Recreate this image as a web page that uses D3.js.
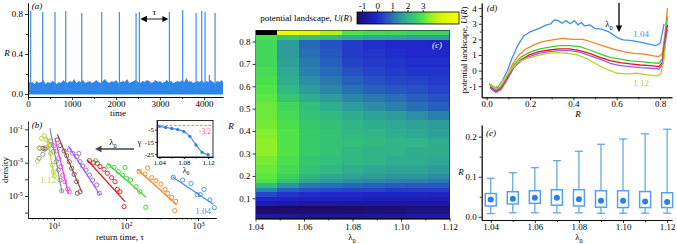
<!DOCTYPE html>
<html><head><meta charset="utf-8">
<script src="https://cdn.jsdelivr.net/npm/d3@7"></script>
<style>
body{margin:0;background:#fff;}
svg{display:block;}
</style></head><body>
<svg id="c" width="677" height="244"></svg>
<script>
// ---------------- DATA ----------------
// (a) time series: noise envelope (every 50 time units) and spikes
const aNoiseStep = 50;
const aNoise = [0.14,0.11,0.12,0.10,0.13,0.11,0.12,0.14,0.10,0.12,
0.11,0.13,0.12,0.10,0.12,0.11,0.14,0.12,0.11,0.13,
0.12,0.15,0.11,0.13,0.12,0.14,0.11,0.12,0.13,0.11,
0.12,0.14,0.12,0.11,0.13,0.15,0.12,0.11,0.13,0.12,
0.14,0.11,0.12,0.13,0.12,0.15,0.11,0.12,0.13,0.14,
0.12,0.11,0.13,0.12,0.14,0.13,0.11,0.12,0.14,0.12,
0.13,0.11,0.12,0.14,0.12,0.13,0.11,0.12,0.13,0.12,
0.14,0.12,0.16,0.12,0.13,0.11,0.12,0.13,0.12,0.14,
0.11,0.13,0.12,0.14,0.12,0.11,0.13,0.12,0.14,0.12];
const aSpikeT = [60,334,614,857,1220,1674,2076,2455,2530,3212,3515,3818,3947,4023,4121,4250];
const aSpikeR = [0.83,0.82,0.82,0.83,0.81,0.82,0.82,0.81,0.82,0.82,0.84,0.81,0.83,0.82,0.19,0.81];
const aTauFrom = 2530, aTauTo = 3212, aTauR = 0.75;

// (b) return-time densities
const bLambda = ["1.04","1.05","1.06","1.07","1.08","1.09","1.10","1.11","1.12"];
const bColor = ["#3f8fe8","#ff7f1a","#3ccf2a","#e8141a","#9a5cf0","#8a4a48","#ea3fe8","#858f90","#b6d22c"];
const bTau = [
 [454,612,800,980,1077,1211,1468,1687],
 [153,184,200,227,261,306,348,379,431,490,474],
 [37.9,57.5,68.1,78.3,89.9,96.8,102,116,138,156,188],
 [31.0,35.2,40.0,43.6,49.5,55.1,63.2,70.3,75.8,82.6,93.8],
 [16.3,18.2,20.6,22.2,23.0,25.0,27.8,31.0,34.4,39.2,42.6],
 [7.0,7.5,11.1,12.1,13.8,15.0,16.3,17.6,19.0,20.6,21.1,23.0],
 [9.0,9.8,10.9,11.6,12.4,13.2,14.2,15.5,16.3],
 [6.2,6.4,7.0,7.9,8.8,9.8,10.7,11.5,12.1,12.8],
 [5.9,6.2,6.7,7.3,7.9,8.4,9.0,9.4,9.8,10.1]];
const bDens = [
 [1.32e-4,9.1e-5,5.5e-5,1.2e-5,1.2e-5,2.5e-5,5.8e-6,2.0e-6],
 [2.9e-4,2.1e-4,4.8e-4,1.26e-4,8.3e-5,5.2e-5,2.5e-5,1.45e-5,8.3e-6,4.8e-6,1.32e-6],
 [1.32e-3,6.3e-4,5.2e-4,2.9e-4,1.8e-4,5.2e-4,1.15e-4,9.1e-5,3.6e-5,1.8e-5,2.1e-6],
 [1.32e-3,1.0e-3,9.1e-4,5.8e-4,4.0e-4,2.3e-4,1.26e-4,7.2e-5,2.5e-5,1.8e-5,2.3e-6],
 [5.8e-3,3.6e-3,2.3e-3,3.6e-3,1.15e-3,6.3e-4,3.6e-4,1.8e-4,9.1e-5,4.6e-5,1.45e-5],
 [7.2e-3,6.6e-3,2.3e-2,1.05e-2,5.0e-3,2.6e-3,1.15e-3,4.6e-4,2.0e-4,7.2e-5,1.45e-5,1.8e-5],
 [2.0e-2,1.05e-2,5.0e-3,1.8e-3,5.8e-4,1.8e-4,7.2e-5,2.6e-5,1.8e-5],
 [1.8e-3,7.2e-3,3.2e-3,7.9e-3,1.15e-2,4.6e-3,1.15e-3,3.6e-4,9.1e-5,2.0e-5],
 [1.26e-3,7.9e-3,2.9e-2,4.2e-2,2.3e-2,1.0e-2,3.6e-3,7.2e-4,2.9e-4,1.66e-4]];
const bFitTau = [[440,1633],[144,506],[55.1,190],[29.0,96.8],[15.8,43.6],[11.1,24.2],[10.3,15.8],[8.8,12.9],[7.9,10.1]];
const bFitDens = [[1.45e-4,3.2e-6],[4.0e-4,2.9e-6],[9.1e-4,8.3e-6],[1.45e-3,4.6e-6],[1.0e-2,1.15e-5],[5.0e-2,1.8e-5],[2.9e-2,1.45e-5],[0.115,1.66e-5],[3.6e-2,1.45e-4]];
// inset: exponent gamma vs lambda0
const inLambda = [1.04,1.05,1.06,1.07,1.08,1.09,1.10,1.11,1.12];
const inGamma = [-2.3,-3.2,-4.0,-4.9,-6.5,-10.5,-17.5,-23.5,-25.5];

// (c) heatmap U(R, lambda0)
const cLambda = [1.04,1.05,1.06,1.07,1.08,1.09,1.10,1.11,1.12];
const cEdges = [0.01,0.03,0.05,0.07,0.09,0.11,0.13,0.15,0.17,0.19,0.21,0.25,0.29,0.33,0.37,0.41,0.45,0.49,0.53,0.57,0.61,0.65,0.69,0.73,0.77,0.81,0.83,0.85];
const cU = [
 [-0.6,-0.7,-0.8,-0.8,-0.8,-0.7,-0.7,-0.6,-0.6],
 [-1.2,-1.2,-1.2,-1.2,-1.2,-1.1,-1.1,-1.0,-1.0],
 [-1.3,-1.3,-1.3,-1.3,-1.25,-1.2,-1.15,-1.1,-1.1],
 [-0.5,-0.6,-0.7,-0.7,-0.7,-0.7,-0.7,-0.7,-0.7],
 [-0.1,-0.2,-0.3,-0.3,-0.3,-0.4,-0.4,-0.4,-0.4],
 [0.5,0.2,0.1,0.0,0.0,-0.1,-0.1,-0.1,-0.2],
 [1.3,0.8,0.6,0.5,0.4,0.4,0.3,0.3,0.3],
 [2.2,1.5,1.1,1.0,0.9,0.8,0.8,0.7,0.7],
 [2.9,2.2,1.7,1.5,1.4,1.3,1.2,1.2,1.1],
 [3.1,2.6,2.0,1.8,1.7,1.6,1.5,1.5,1.4],
 [3.2,2.8,2.3,2.1,1.9,1.8,1.7,1.7,1.6],
 [3.3,2.9,2.4,2.2,2.1,2.0,1.9,1.9,1.8],
 [3.5,3.0,2.5,2.3,2.1,2.0,2.0,1.9,1.9],
 [3.5,3.0,2.5,2.3,2.2,2.1,2.0,2.0,1.9],
 [3.4,3.0,2.5,2.3,2.1,2.0,1.9,1.8,1.7],
 [3.3,2.9,2.4,2.2,2.0,1.9,1.8,1.7,1.6],
 [3.2,2.8,2.3,2.1,1.9,1.7,1.6,1.4,1.2],
 [3.2,2.7,2.2,1.9,1.6,1.4,1.2,1.0,0.8],
 [3.1,2.4,1.9,1.6,1.3,1.1,1.0,0.8,0.6],
 [3.0,2.1,1.6,1.3,1.0,0.8,0.7,0.6,0.4],
 [2.9,1.9,1.4,1.1,0.8,0.6,0.5,0.4,0.3],
 [2.8,1.8,1.2,0.9,0.6,0.4,0.3,0.2,0.2],
 [2.7,1.7,1.1,0.8,0.4,0.3,0.2,0.1,0.1],
 [2.7,1.6,1.0,0.7,0.3,0.2,0.1,0.0,0.0],
 [2.7,1.6,0.9,0.6,0.3,0.1,0.0,0.0,-0.1],
 [2.9,2.4,2.2,2.1,1.9,1.8,1.8,1.7,1.7],
 [null,4.8,4.6,3.8,3.0,2.8,2.7,2.6,2.6]];
const cStopV = [-1.33,-1.0,-0.5,0.0,0.5,1.0,1.5,2.0,2.5,3.0,3.5,4.2,5.4];
const cStopC = ["#200a60","#1c1488","#1c1cb0","#2028cc","#2648c8","#2870b4","#2c96a0","#30b488","#38cc68","#50e448","#90f028","#d8f404","#ffff00"];
const cbTicks = [-1,0,1,2,3];

// (d) potential curves
const dLambda = ["1.04","1.05","1.06","1.07","1.08","1.12"];
const dColor = ["#3f8fe8","#ff7f1a","#3ccf2a","#e8141a","#9a5cf0","#b6d22c"];
const dRgrid = [0.016,0.042,0.067,0.094,0.125,0.156,0.195,0.242,0.288,0.335,0.382,0.429,0.475,0.522,0.569,0.616,0.662,0.709,0.756,0.795,0.81,0.823,0.834];
const dR = [
 [0.011,0.031,0.051,0.07,0.094,0.117,0.145,0.171,0.203,0.242,0.276,0.296,0.312,0.33,0.348,0.366,0.386,0.405,0.421,0.436,0.452,0.475,0.499,0.53,0.561,0.584,0.608,0.631,0.67,0.709,0.748,0.779,0.8,0.81,0.818],
 [0.016,0.039,0.062,0.086,0.117,0.148,0.179,0.218,0.257,0.304,0.351,0.397,0.444,0.491,0.538,0.584,0.631,0.678,0.725,0.771,0.795,0.81,0.821,0.834],
 dRgrid, dRgrid, dRgrid,
 [0.011,0.039,0.062,0.086,0.117,0.148,0.187,0.234,0.281,0.327,0.374,0.421,0.468,0.514,0.561,0.600,0.647,0.693,0.740,0.787,0.803,0.818,0.826]];
const dU = [
 [-0.85,-1.13,-1.07,-0.7,-0.06,0.79,1.65,2.22,2.5,2.71,2.93,3.0,3.25,3.2,3.03,3.2,3.0,3.2,2.93,3.08,2.86,2.93,2.71,2.65,2.5,2.29,2.07,1.97,1.92,1.82,1.69,1.6,1.75,2.39,2.99],
 [-0.98,-1.24,-1.07,-0.6,0.36,1.0,1.37,1.65,1.86,1.97,2.07,2.0,2.0,1.8,1.58,1.37,1.22,1.11,1.05,0.94,0.9,1.1,2.18,4.0],
 [-1.03,-1.28,-1.07,-0.49,0.36,0.85,1.15,1.37,1.5,1.6,1.6,1.54,1.32,1.07,0.85,0.73,0.62,0.58,0.51,0.47,0.73,1.97,3.46],
 [-1.07,-1.35,-1.13,-0.56,0.26,0.68,1.0,1.22,1.32,1.39,1.39,1.28,1.11,0.85,0.64,0.51,0.43,0.36,0.32,0.26,0.51,1.97,2.93],
 [-1.11,-1.41,-1.2,-0.6,0.19,0.58,0.9,1.11,1.22,1.28,1.28,1.18,0.96,0.73,0.47,0.32,0.26,0.19,0.15,0.09,0.36,1.75,2.6],
 [-0.81,-1.07,-0.92,-0.43,0.15,0.58,0.79,0.96,1.11,1.15,1.11,1.0,0.73,0.36,0.04,-0.17,-0.21,-0.17,-0.28,-0.34,-0.21,0.68,1.75]];

// (e) box plots of R
const eLambda = [1.04,1.05,1.06,1.07,1.08,1.09,1.10,1.11,1.12];
const eMin  = [0.008,0.010,0.010,0.010,0.010,0.009,0.009,0.009,0.009];
const eQ1   = [0.027,0.032,0.0335,0.029,0.027,0.024,0.023,0.023,0.023];
const eMean = [0.043,0.045,0.0475,0.0475,0.044,0.040,0.040,0.038,0.037];
const eQ3   = [0.058,0.0625,0.065,0.0675,0.0675,0.065,0.065,0.063,0.060];
const eMax  = [0.096,0.110,0.1225,0.140,0.1635,0.181,0.194,0.207,0.2185];

// ---------------- DRAWING ----------------
const SERIF = '"Liberation Serif","DejaVu Serif",serif';
const FS = 9;
const svg = d3.select('#c');
const fmt = n => d => (d < 0 ? '-' : '') + Math.abs(d).toFixed(n);

function axis(g, ax, tr, fs) {
  const a = g.append('g').attr('transform', tr).call(ax);
  a.attr('font-family', SERIF).attr('font-size', fs || FS);
  a.selectAll('.domain').attr('stroke', '#000').attr('stroke-width', 0.8);
  a.selectAll('.tick line').attr('stroke', '#000').attr('stroke-width', 0.8);
  a.selectAll('.tick text').attr('fill', '#000');
  return a;
}
function rich(x, y, parts, o = {}) {
  const size = o.size || FS;
  const t = svg.append('text').attr('x', x).attr('y', y)
    .attr('font-family', SERIF).attr('font-size', size)
    .attr('fill', o.color || '#000').attr('text-anchor', o.anchor || 'middle');
  if (o.rotate) t.attr('transform', `rotate(${o.rotate},${x},${y})`);
  if (o.italic) t.attr('font-style', 'italic');
  let shift = 0;
  parts.forEach(p => {
    const [s, k] = Array.isArray(p) ? p : [p, ''];
    const ts = t.append('tspan').text(s);
    let want = 0;
    if (k === 'sub') { want = size * 0.3; ts.attr('font-size', size * 0.7); }
    if (k === 'sup') { want = -size * 0.4; ts.attr('font-size', size * 0.7); }
    if (k === 'i') ts.attr('font-style', 'italic');
    if (want - shift !== 0) ts.attr('dy', want - shift);
    shift = want;
  });
  return t;
}
const LAM0 = ['λ', ['0', 'sub']];
function arrowHead(x, y, dir, col) {
  const s = 3.2, l = 6.5;
  let pts;
  if (dir === 'left') pts = [[x, y], [x + l, y - s], [x + l, y + s]];
  else pts = [[x, y], [x - s, y - l], [x + s, y - l]];
  svg.append('polygon').attr('points', pts.map(p => p.join(',')).join(' ')).attr('fill', col);
}

// ===== (a) =====
{
  const xa = d3.scaleLinear().domain([0, 4430]).range([28, 223]);
  const ya = d3.scaleLinear().domain([-0.03, 0.91]).range([97, 3]);
  const g = svg.append('g');
  g.append('path').datum(aNoise)
    .attr('d', d3.area().x((d, i) => xa(Math.min(i * aNoiseStep, 4430))).y0(ya(-0.006)).y1(d => ya(d)))
    .attr('fill', '#2f86ea');
  g.selectAll('line.sp').data(aSpikeT).join('line')
    .attr('x1', d => xa(d)).attr('x2', d => xa(d))
    .attr('y1', ya(0.05)).attr('y2', (d, i) => ya(aSpikeR[i]))
    .attr('stroke', '#3d8eec').attr('stroke-width', 1.2);
  axis(g, d3.axisBottom(xa).tickValues([500, 1500, 2500, 3500]).tickSize(2).tickSizeOuter(0).tickFormat(''), 'translate(0,97)');
  axis(g, d3.axisBottom(xa).tickValues([0, 1000, 2000, 3000, 4000]).tickSize(3).tickSizeOuter(0).tickPadding(1).tickFormat(fmt(0)), 'translate(0,97)');
  axis(g, d3.axisLeft(ya).tickValues([0.2, 0.6]).tickSize(2).tickSizeOuter(0).tickFormat(''), 'translate(28,0)');
  axis(g, d3.axisLeft(ya).tickValues([0, 0.4, 0.8]).tickSize(3).tickSizeOuter(0).tickPadding(2).tickFormat(fmt(1)), 'translate(28,0)');
  // tau arrow
  const yT = ya(aTauR);
  g.append('line').attr('x1', xa(aTauFrom) + 5).attr('x2', xa(aTauTo) - 5).attr('y1', yT).attr('y2', yT).attr('stroke', '#000').attr('stroke-width', 0.9);
  arrowHead(xa(aTauFrom) + 1, yT, 'left', '#000');
  svg.append('polygon').attr('points', `${xa(aTauTo) - 1},${yT} ${xa(aTauTo) - 7},${yT - 3} ${xa(aTauTo) - 7},${yT + 3}`).attr('fill', '#000');
  rich((xa(aTauFrom) + xa(aTauTo)) / 2, yT - 4, ['τ']);
  rich(37, 8.5, ['(a)'], { italic: true });
  rich(7, 56, [['R', 'i']]);
  rich(118, 116, ['time']);
}

// ===== (b) =====
{
  const xb = d3.scaleLog().domain([4.35, 1780]).range([28, 216]);
  const yb = d3.scaleLog().domain([4.8e-7, 0.316]).range([218, 121]);
  const g = svg.append('g');
  const minor = [];
  [1, 10, 100, 1000].forEach(dec => { for (let k = 2; k <= 9; k++) { const v = dec * k; if (v > 4.35 && v < 1780) minor.push(v); } });
  axis(g, d3.axisBottom(xb).tickValues(minor).tickSize(1.5).tickSizeOuter(0).tickFormat(''), 'translate(0,218)');
  const ax = axis(g, d3.axisBottom(xb).tickValues([10, 100, 1000]).tickSize(3).tickSizeOuter(0).tickPadding(2), 'translate(0,218)');
  ax.selectAll('.tick text').each(function (d) {
    const t = d3.select(this); t.text('');
    t.append('tspan').text('10');
    t.append('tspan').attr('font-size', 6.3).attr('dy', -3.6).text(Math.round(Math.log10(d)));
  });
  const ay = axis(g, d3.axisLeft(yb).tickValues([1e-1, 1e-2, 1e-3, 1e-4, 1e-5, 1e-6]).tickSize(3).tickSizeOuter(0).tickPadding(2), 'translate(28,0)');
  ay.selectAll('.tick text').each(function (d) {
    const e = Math.round(Math.log10(d)); const t = d3.select(this); t.text('');
    if (Math.abs(e) % 2 === 1) {
      t.append('tspan').text('10');
      t.append('tspan').attr('font-size', 6.3).attr('dy', -3.6).text('-' + Math.abs(e));
    }
  });
  bLambda.forEach((lam, i) => {
    g.append('line')
      .attr('x1', xb(bFitTau[i][0])).attr('y1', yb(bFitDens[i][0]))
      .attr('x2', xb(bFitTau[i][1])).attr('y2', yb(bFitDens[i][1]))
      .attr('stroke', bColor[i]).attr('stroke-width', 1.2);
    g.selectAll(null).data(bTau[i]).join('circle')
      .attr('cx', d => xb(d)).attr('cy', (d, j) => yb(bDens[i][j])).attr('r', 2.1)
      .attr('fill', 'none').attr('stroke', bColor[i]).attr('stroke-width', 0.9);
  });
  rich(37, 128, ['(b)'], { italic: true });
  rich(8, 170, ['density'], { rotate: -90 });
  rich(120, 240, ['return time, τ']);
  rich(48, 183, ['1.12'], { color: bColor[8] });
  rich(203, 214, ['1.04'], { color: bColor[0] });
  // lambda0 arrow
  g.append('line').attr('x1', 134).attr('x2', 101).attr('y1', 149).attr('y2', 149).attr('stroke', '#444').attr('stroke-width', 1.5);
  arrowHead(95, 149, 'left', '#444');
  rich(113, 145, LAM0);
  // inset
  const xi = d3.scaleLinear().domain([1.036, 1.128]).range([157, 213]);
  const yi = d3.scaleLinear().domain([-27.4, 2.5]).range([157, 120.5]);
  g.append('rect').attr('x', 157).attr('y', 120.5).attr('width', 56).attr('height', 36.5).attr('fill', '#fff').attr('stroke', '#000').attr('stroke-width', 0.8);
  g.append('line').attr('x1', 157).attr('x2', 213).attr('y1', yi(-1.5)).attr('y2', yi(-1.5)).attr('stroke', '#f06060').attr('stroke-width', 0.9).attr('stroke-dasharray', '2.5,1.8');
  axis(g, d3.axisBottom(xi).tickValues([1.04, 1.06, 1.08, 1.10, 1.12]).tickSize(1.5).tickSizeOuter(0).tickFormat(''), 'translate(0,157)');
  axis(g, d3.axisBottom(xi).tickValues([1.04, 1.08, 1.12]).tickSize(2).tickSizeOuter(0).tickPadding(1).tickFormat(fmt(2)), 'translate(0,157)', 7);
  axis(g, d3.axisLeft(yi).tickValues([-5, -15, -25]).tickSize(2).tickSizeOuter(0).tickPadding(1).tickFormat(fmt(0)), 'translate(157,0)', 7);
  g.append('path').datum(inGamma).attr('d', d3.line().x((d, i) => xi(inLambda[i])).y(d => yi(d)).curve(d3.curveMonotoneX))
    .attr('fill', 'none').attr('stroke', '#3f8fe8').attr('stroke-width', 1.2);
  g.selectAll(null).data(inGamma).join('circle').attr('cx', (d, i) => xi(inLambda[i])).attr('cy', d => yi(d)).attr('r', 1.6).attr('fill', '#2f7fe0');
  rich(205, 134, ['-3/2'], { color: '#f06060', size: 7.5 });
  rich(139.5, 145, ['γ'], { size: 8 });
  rich(186, 173, LAM0, { size: 8 });
}

// ===== (c) =====
{
  const xc = d3.scaleLinear().domain([1.04, 1.12]).range([255.5, 449.5]);
  const bandC = d3.scaleBand().domain(cLambda).range([xc(1.04), xc(1.12)]);
  const yc = d3.scaleLinear().domain([0, 0.85]).range([220.7, 30.3]);
  const col = d3.scaleLinear().domain(cStopV).range(cStopC).clamp(true);
  const g = svg.append('g').attr('shape-rendering', 'crispEdges');
  cU.forEach((row, r) => {
    row.forEach((v, c) => {
      g.append('rect')
        .attr('x', bandC(cLambda[c])).attr('width', bandC.bandwidth() + 0.5)
        .attr('y', yc(cEdges[r + 1])).attr('height', yc(cEdges[r]) - yc(cEdges[r + 1]) + 0.5)
        .attr('fill', v === null ? '#000' : col(v));
    });
  });
  g.append('rect').attr('x', xc(1.04)).attr('y', yc(0.85)).attr('width', xc(1.12) - xc(1.04)).attr('height', yc(0.01) - yc(0.85))
    .attr('fill', 'none').attr('stroke', '#222').attr('stroke-width', 0.6);
  const ga = svg.append('g');
  axis(ga, d3.axisBottom(xc).tickValues([1.05, 1.07, 1.09, 1.11]).tickSize(2).tickSizeOuter(0).tickFormat(''), `translate(0,${yc(0.01)})`);
  axis(ga, d3.axisBottom(xc).tickValues([1.04, 1.06, 1.08, 1.10, 1.12]).tickSize(3).tickSizeOuter(0).tickPadding(2).tickFormat(fmt(2)), `translate(0,${yc(0.01)})`);
  axis(ga, d3.axisLeft(yc).tickValues([0.1, 0.2, 0.3, 0.4, 0.5, 0.6, 0.7, 0.8]).tickSize(3).tickSizeOuter(0).tickPadding(2).tickFormat(fmt(1)), `translate(${xc(1.04)},0)`)
    .select('.domain').remove();
  rich(352, 240, LAM0);
  rich(231, 129, [['R', 'i']]);
  rich(437, 48, ['(c)'], { italic: true, color: '#fff' });
  // colorbar
  const cbx = d3.scaleLinear().domain([-1.33, 5.4]).range([357, 459]);
  const defs = svg.append('defs');
  const lg = defs.append('linearGradient').attr('id', 'cbg').attr('x1', '0%').attr('x2', '100%');
  cStopV.forEach((v, i) => lg.append('stop').attr('offset', ((v - cStopV[0]) / (cStopV[cStopV.length - 1] - cStopV[0]) * 100) + '%').attr('stop-color', cStopC[i]));
  svg.append('rect').attr('x', 357).attr('y', 12).attr('width', 102).attr('height', 12).attr('fill', 'url(#cbg)').attr('stroke', '#000').attr('stroke-width', 0.8);
  const cb = axis(svg.append('g'), d3.axisTop(cbx).tickValues(cbTicks).tickSize(2).tickSizeOuter(0).tickPadding(1).tickFormat(fmt(0)), 'translate(0,12)');
  cb.select('.domain').remove();
  rich(352, 21, ['potential landscape, ', ['U', 'i'], '(', ['R', 'i'], ')'], { anchor: 'end' });
}

// ===== (d) =====
{
  const xd = d3.scaleLinear().domain([-0.023, 0.855]).range([481.7, 672]);
  const yd = d3.scaleLinear().domain([-1.71, 4.33]).range([97.3, 3]);
  const g = svg.append('g');
  dLambda.forEach((lam, i) => {
    g.append('path').datum(dU[i])
      .attr('d', d3.line().x((d, j) => xd(dR[i][j])).y(d => yd(d)))
      .attr('fill', 'none').attr('stroke', dColor[i]).attr('stroke-width', 1.3).attr('stroke-linejoin', 'round');
  });
  axis(g, d3.axisBottom(xd).tickValues([0.1, 0.3, 0.5, 0.7]).tickSize(2).tickSizeOuter(0).tickFormat(''), 'translate(0,97.3)');
  axis(g, d3.axisBottom(xd).tickValues([0, 0.2, 0.4, 0.6, 0.8]).tickSize(3).tickSizeOuter(0).tickPadding(0.5).tickFormat(fmt(1)), 'translate(0,97.3)');
  axis(g, d3.axisLeft(yd).tickValues([-0.5, 0.5, 1.5, 2.5, 3.5]).tickSize(2).tickSizeOuter(0).tickFormat(''), 'translate(481.7,0)');
  axis(g, d3.axisLeft(yd).tickValues([-1, 0, 1, 2, 3, 4]).tickSize(3).tickSizeOuter(0).tickPadding(2).tickFormat(fmt(0)), 'translate(481.7,0)');
  rich(492, 11, ['(d)'], { italic: true });
  rich(578, 117, [['R', 'i']]);
  rich(467, 50, ['potential landscape, ', ['U', 'i'], '(', ['R', 'i'], ')'], { rotate: -90, size: 8.5 });
  g.append('line').attr('x1', 619).attr('x2', 619).attr('y1', 3).attr('y2', 26).attr('stroke', '#000').attr('stroke-width', 1.3);
  arrowHead(619, 32, 'down', '#000');
  rich(609, 27, LAM0, { size: 9 });
  rich(641, 37, ['1.04'], { color: dColor[0] });
  rich(641, 86, ['1.12'], { color: dColor[5] });
}

// ===== (e) =====
{
  const xe = d3.scaleLinear().domain([1.0359, 1.1222]).range([481.7, 672]);
  const ye = d3.scaleLinear().domain([-0.008, 0.229]).range([220, 125]);
  const g = svg.append('g');
  const bw = 11, cw = 8, bc = '#58a0ee';
  eLambda.forEach((l, i) => {
    const x = xe(l);
    g.append('line').attr('x1', x).attr('x2', x).attr('y1', ye(eMax[i])).attr('y2', ye(eQ3[i])).attr('stroke', bc).attr('stroke-width', 1.2);
    g.append('line').attr('x1', x).attr('x2', x).attr('y1', ye(eMin[i])).attr('y2', ye(eQ1[i])).attr('stroke', bc).attr('stroke-width', 1.2);
    g.append('line').attr('x1', x - cw / 2).attr('x2', x + cw / 2).attr('y1', ye(eMax[i])).attr('y2', ye(eMax[i])).attr('stroke', bc).attr('stroke-width', 1.2);
    g.append('line').attr('x1', x - cw / 2).attr('x2', x + cw / 2).attr('y1', ye(eMin[i])).attr('y2', ye(eMin[i])).attr('stroke', bc).attr('stroke-width', 1.2);
    g.append('rect').attr('x', x - bw / 2).attr('width', bw).attr('y', ye(eQ3[i])).attr('height', ye(eQ1[i]) - ye(eQ3[i]))
      .attr('fill', '#fff').attr('stroke', bc).attr('stroke-width', 1.5);
    g.append('circle').attr('cx', x).attr('cy', ye(eMean[i])).attr('r', 3).attr('fill', '#2a80e6');
  });
  axis(g, d3.axisBottom(xe).tickValues([1.05, 1.07, 1.09, 1.11]).tickSize(2).tickSizeOuter(0).tickFormat(''), 'translate(0,220)');
  axis(g, d3.axisBottom(xe).tickValues([1.04, 1.06, 1.08, 1.10, 1.12]).tickSize(3).tickSizeOuter(0).tickPadding(1).tickFormat(fmt(2)), 'translate(0,220)');
  axis(g, d3.axisLeft(ye).tickValues([0.05, 0.15]).tickSize(2).tickSizeOuter(0).tickFormat(''), 'translate(481.7,0)');
  axis(g, d3.axisLeft(ye).tickValues([0, 0.1, 0.2]).tickSize(3).tickSizeOuter(0).tickPadding(2).tickFormat(fmt(1)), 'translate(481.7,0)');
  rich(491, 136, ['(e)'], { italic: true });
  rich(461, 175, [['R', 'i']]);
  rich(579, 240, LAM0);
}
</script></body></html>
